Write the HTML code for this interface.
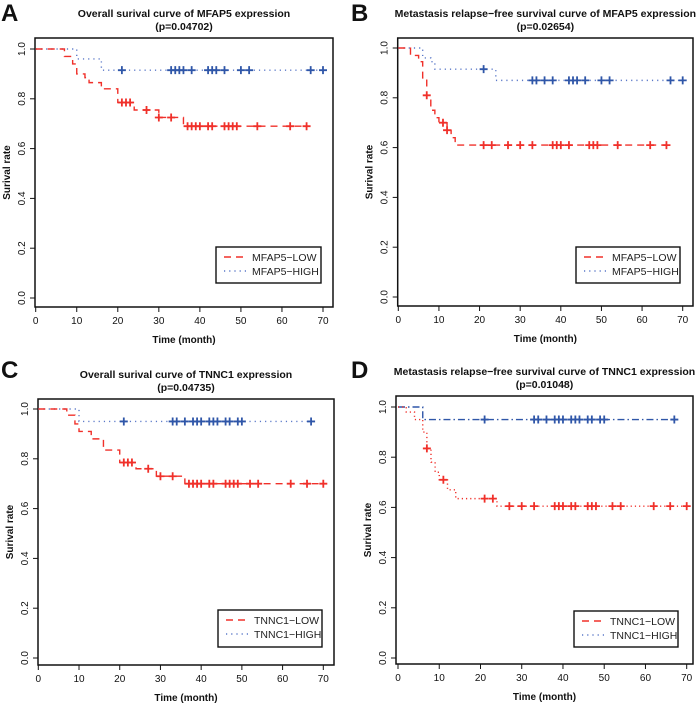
<!DOCTYPE html>
<html><head><meta charset="utf-8"><style>
html,body{margin:0;padding:0;background:#fff;}
svg{display:block;font-family:"Liberation Sans",Arial,sans-serif;}
</style></head><body>
<svg id="fig" width="700" height="714" viewBox="0 0 700 714"></svg>
<script>
// Panel A
const aLowT=[0,7,9,10,12,13,16,20,24,30,36,66];
const aLowS=[1,0.97,0.94,0.90,0.885,0.865,0.84,0.785,0.755,0.725,0.69,0.69];
const aLowC=[21,22,23,27,30,33,37,38,39,40,42,43,46,47,48,49,54,62,66];
const aHighT=[0,10,16,70];
const aHighS=[1,0.96,0.915,0.915];
const aHighC=[21,33,34,35,36,38,42,43,44,46,50,52,67,70];
// Panel B
const bLowT=[0,3,5,6,7,8,9,10,12,13,14,66];
const bLowS=[1,0.97,0.945,0.88,0.81,0.75,0.72,0.70,0.67,0.64,0.61,0.61];
const bLowC=[7,11,12,21,23,27,30,33,38,39,40,42,47,48,49,54,62,66];
const bHighT=[0,6,8,9,24,70];
const bHighS=[1,0.96,0.945,0.915,0.87,0.87];
const bHighC=[21,33,34,36,38,42,43,44,46,50,52,67,70];
// Panel C
const cLowT=[0,7,9,10,13,16,20,24,29,36,70];
const cLowS=[1,0.975,0.94,0.91,0.88,0.835,0.785,0.76,0.73,0.70,0.70];
const cLowC=[21,22,23,27,30,33,37,38,39,40,42,43,46,47,48,49,52,54,62,66,70];
const cHighT=[0,10,67];
const cHighS=[1,0.95,0.95];
const cHighC=[21,33,34,36,38,39,40,42,43,44,46,47,49,50,67];
// Panel D
const dLowT=[0,2,4,6,7,8,9,10,12,14,24,70];
const dLowS=[1,0.98,0.95,0.90,0.835,0.78,0.74,0.71,0.67,0.635,0.605,0.605];
const dLowC=[7,11,21,23,27,30,33,38,39,40,42,43,46,47,48,52,54,62,66,70];
const dHighT=[0,6,67];
const dHighS=[1,0.95,0.95];
const dHighC=[21,33,34,36,38,39,40,42,43,44,46,47,49,50,67];

const xTicks=[0,10,20,30,40,50,60,70];
const yTicks=[0,0.2,0.4,0.6,0.8,1.0];
const yTickLabels=["0.0","0.2","0.4","0.6","0.8","1.0"];

const NS="http://www.w3.org/2000/svg";
const svg=document.getElementById('fig');
function mk(tag,attrs,parent){const e=document.createElementNS(NS,tag);for(const k in attrs)e.setAttribute(k,attrs[k]);(parent||svg).appendChild(e);return e;}

const panels=[
 {L:"A",title:"Overall surival curve of MFAP5 expression",p:"(p=0.04702)",box:[35,38,333,307],x0:35.7,x70:323,y1:49,y0:298,leg:[216,247,321,283],names:["MFAP5−LOW","MFAP5−HIGH"],lowT:aLowT,lowS:aLowS,lowC:aLowC,highT:aHighT,highS:aHighS,highC:aHighC,lowDash:"7,5",highDash:"1.2,4",tx:0,ty:0},
 {L:"B",title:"Metastasis relapse−free survival curve of MFAP5 expression",p:"(p=0.02654)",box:[397.7,38,693,306],x0:398.3,x70:682.7,y1:48,y0:297,leg:[576,247,680,283],names:["MFAP5−LOW","MFAP5−HIGH"],lowT:bLowT,lowS:bLowS,lowC:bLowC,highT:bHighT,highS:bHighS,highC:bHighC,lowDash:"7,5",highDash:"1.2,4",tx:350,ty:0},
 {L:"C",title:"Overall surival curve of TNNC1 expression",p:"(p=0.04735)",box:[38,399,334,665],x0:38.3,x70:323.3,y1:409,y0:658,leg:[218,610,322,647],names:["TNNC1−LOW","TNNC1−HIGH"],lowT:cLowT,lowS:cLowS,lowC:cLowC,highT:cHighT,highS:cHighS,highC:cHighC,lowDash:"7,5",highDash:"1.2,4",tx:0,ty:357},
 {L:"D",title:"Metastasis relapse−free survival curve of TNNC1 expression",p:"(p=0.01048)",box:[396,396,693,664],x0:398,x70:686.7,y1:407,y0:658,leg:[574,611,678,647],names:["TNNC1−LOW","TNNC1−HIGH"],lowT:dLowT,lowS:dLowS,lowC:dLowC,highT:dHighT,highS:dHighS,highC:dHighC,lowDash:"1.2,3",highDash:"7,3,1.5,3",tx:350,ty:357}
];
const RED="#f0302a", BLUE="#5a78c8", BLUED="#2f56a8";

panels.forEach(P=>{
 const g=mk('g',{});
 
 
 const X=t=>P.x0+(P.x70-P.x0)*t/70;
 const Y=s=>P.y0+(P.y1-P.y0)*s;
 const lt=mk('text',{x:P.tx+1,y:P.ty+21,'font-size':24,'font-weight':'bold',fill:'#111'},g);lt.textContent=P.L;
 
 const cx=(P.box[0]+P.box[2])/2;
 const t1=mk('text',{x:cx,y:P.box[1]-21,'font-size':10.5,'font-weight':'bold','text-anchor':'middle',fill:'#111'},g);t1.textContent=P.title;
 
 const t2=mk('text',{x:cx,y:P.box[1]-8,'font-size':10.5,'font-weight':'bold','text-anchor':'middle',fill:'#111'},g);t2.textContent=P.p;
 
 const bx=mk('rect',{x:P.box[0],y:P.box[1],width:P.box[2]-P.box[0],height:P.box[3]-P.box[1],fill:'none',stroke:'#111','stroke-width':1.5},g);
 
 xTicks.forEach(v=>{
  mk('line',{x1:X(v),x2:X(v),y1:P.box[3],y2:P.box[3]+5,stroke:'#111'},g);
  const tt=mk('text',{x:X(v),y:P.box[3]+17,'font-size':10,'text-anchor':'middle',fill:'#111'},g);tt.textContent=v;
  
 });
 yTicks.forEach((v,i)=>{
  mk('line',{x1:P.box[0],x2:P.box[0]-5,y1:Y(v),y2:Y(v),stroke:'#111'},g);
  const tx=P.box[0]-10, ty=Y(v);
  const tt=mk('text',{x:tx,y:ty,'font-size':10,'text-anchor':'middle',fill:'#111',transform:`rotate(-90 ${tx} ${ty})`},g);tt.textContent=yTickLabels[i];
  
 });
 const xl=mk('text',{x:cx,y:P.box[3]+36,'font-size':10,'font-weight':'bold','text-anchor':'middle',fill:'#111'},g);xl.textContent="Time (month)";
 
 const yx=P.box[0]-25, yy=(P.box[1]+P.box[3])/2;
 const yl=mk('text',{x:yx,y:yy,'font-size':10,'font-weight':'bold','text-anchor':'middle',fill:'#111',transform:`rotate(-90 ${yx} ${yy})`},g);yl.textContent="Surival rate";
 
 function curve(T,S,C,color,cross,dash,name){
  let d=`M${X(T[0])},${Y(S[0])}`;
  for(let i=1;i<T.length;i++){d+=`H${X(T[i])}V${Y(S[i])}`;}
  const pth=mk('path',{d:d,fill:'none',stroke:color,'stroke-width':1.4,'stroke-dasharray':dash},g);
  
  C.forEach(c=>{
   let s=S[0];for(let i=0;i<T.length;i++){if(T[i]<=c)s=S[i];}
   const cg=mk('path',{d:`M${X(c)-4},${Y(s)}H${X(c)+4}M${X(c)},${Y(s)-4}V${Y(s)+4}`,stroke:cross,'stroke-width':1.8,fill:'none'},g);
   
  });
 }
 curve(P.highT,P.highS,P.highC,P.L==="D"?BLUED:BLUE,BLUED,P.highDash,'high');
 curve(P.lowT,P.lowS,P.lowC,RED,RED,P.lowDash,'low');
 const lg=mk('g',{},g);
 
 const [l1,t1y,r1,b1]=P.leg;
 mk('rect',{x:l1,y:t1y,width:r1-l1,height:b1-t1y,fill:'#fff',stroke:'#111','stroke-width':1.4},lg);
 const rows=[[P.names[0],RED,"7,5",t1y+14],[P.names[1],BLUE,"1.2,4",t1y+28]];
 rows.forEach(r=>{
  const e=mk('g',{},lg);
  
  mk('line',{x1:l1+8,x2:l1+30,y1:r[3]-4,y2:r[3]-4,stroke:r[1],'stroke-width':1.6,'stroke-dasharray':r[2]},e);
  const tx=mk('text',{x:l1+36,y:r[3],'font-size':10.5,fill:'#222'},e);tx.textContent=r[0];
 });
});
</script>
</body></html>
